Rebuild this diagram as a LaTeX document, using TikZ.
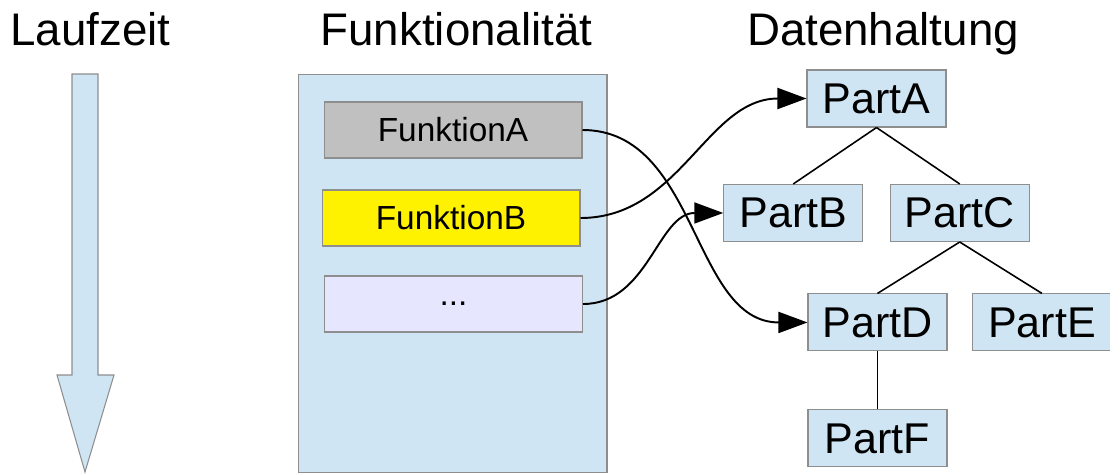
\documentclass[tikz,border=0pt]{standalone}
\usepackage{fontspec}
\setmainfont{Liberation Sans}
\usetikzlibrary{arrows.meta}

\definecolor{boxblue}{HTML}{CFE5F3}
\definecolor{boxline}{HTML}{8E8E8E}
\definecolor{funcgray}{HTML}{C0C0C0}
\definecolor{funcpale}{HTML}{E6E6FF}

\begin{document}
\begin{tikzpicture}[x=0.02cm,y=-0.02cm]
\tikzstyle{title}=[anchor=base,inner sep=0pt,font=\fontsize{26pt}{26pt}\selectfont]
\tikzstyle{part}=[draw=boxline,fill=boxblue,line width=0.6pt,minimum width=2.78cm,minimum height=1.14cm,inner sep=0pt,font=\fontsize{24.5pt}{24.5pt}\selectfont]
\tikzstyle{func}=[draw=boxline,line width=0.6pt,minimum width=5.16cm,minimum height=1.12cm,inner sep=0pt,font=\fontsize{19pt}{19pt}\selectfont]
\tikzstyle{conn}=[line width=1.1pt,-{Triangle[length=5.8mm,width=4.2mm]}]
\tikzstyle{level 1}=[sibling distance=3.33cm,level distance=2.29cm]
\tikzstyle{level 2}=[sibling distance=3.29cm,level distance=2.19cm]
\tikzstyle{level 3}=[level distance=2.32cm]
\tikzstyle{edge from parent}=[draw,line width=0.9pt]

\useasboundingbox (0,0) rectangle (1110,474);

% headings
\node[title,anchor=base west] (runtime) at (10,45) {Laufzeit};
\node[title] (functitle) at (456.5,45) {Funktionalität};
\node[title] (datatitle) at (883,45) {Datenhaltung};

% time arrow
\draw[boxline,fill=boxblue,line width=0.6pt]
  (72,74) -- (98,74) -- (98,375) -- (114,375) -- (85,472) -- (57,375) -- (72,375) -- cycle;

% functions
\node[draw=boxline,fill=boxblue,line width=0.6pt,minimum width=6.18cm,minimum height=7.96cm,anchor=north] (funcs) at (452.5,74) {};
\node[func,fill=funcgray] (funcA) at (453,130) {FunktionA};
\node[func,fill=yellow] (funcB) at (451,218) {FunktionB};
\node[func,fill=funcpale] (funcX) at (453.5,304) {...};

% data tree
\node[part] (partA) at (876.5,98.5) {PartA}
  [parent anchor=south,child anchor=north]
  child {node[part] (partB) {PartB}}
  child {node[part] (partC) {PartC}
    child {node[part] (partD) {PartD}
      child {node[part] (partF) {PartF}}
    }
    child {node[part] (partE) {PartE}}
  };

% accesses
\draw[conn] (funcA.east) to[out=0,in=180] (partD.west);
\draw[conn] (funcB.east) to[out=0,in=180] (partA.west);
\draw[conn] (funcX.east) to[out=0,in=180] (partB.west);
\end{tikzpicture}
\end{document}
